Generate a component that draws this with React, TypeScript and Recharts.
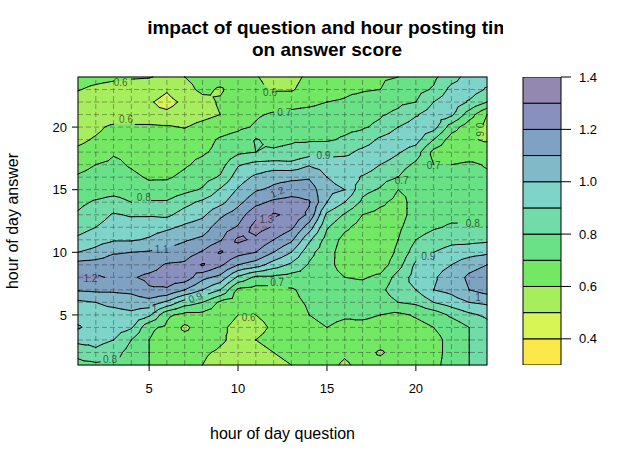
import React from "react";
import { ScatterChart, Scatter, XAxis, YAxis, BarChart, Bar } from "recharts";

if (typeof document !== "undefined") document.body.style.margin = "0";

// hour of day the question was posted (x) and the answer was posted (y)
const hourQuestion = [1, 2, 3, 4, 5, 6, 7, 8, 9, 10, 11, 12, 13, 14, 15, 16, 17, 18, 19, 20, 21, 22, 23, 24];
const hourAnswer = [1, 2, 3, 4, 5, 6, 7, 8, 9, 10, 11, 12, 13, 14, 15, 16, 17, 18, 19, 20, 21, 22, 23, 24];

// mean answer score, one row per answer hour, listed top (24) to bottom (1)
const scoreRows: number[][] = [
  [0.64, 0.63, 0.62, 0.61, 0.605, 0.58, 0.6, 0.63, 0.64, 0.63, 0.61, 0.55, 0.57, 0.62, 0.65, 0.67, 0.68, 0.69, 0.7, 0.75, 0.78, 0.86, 0.94, 0.94],
  [0.605, 0.58, 0.56, 0.55, 0.55, 0.51, 0.57, 0.62, 0.59, 0.64, 0.63, 0.59, 0.59, 0.64, 0.66, 0.68, 0.69, 0.7, 0.74, 0.77, 0.81, 0.93, 0.95, 0.89],
  [0.56, 0.54, 0.53, 0.52, 0.51, 0.47, 0.52, 0.57, 0.61, 0.64, 0.65, 0.66, 0.67, 0.68, 0.7, 0.71, 0.74, 0.76, 0.78, 0.8, 0.9, 0.96, 0.89, 0.8],
  [0.54, 0.53, 0.53, 0.53, 0.52, 0.52, 0.55, 0.57, 0.6, 0.66, 0.69, 0.71, 0.72, 0.73, 0.74, 0.75, 0.77, 0.79, 0.82, 0.89, 0.95, 0.92, 0.75, 0.6],
  [0.55, 0.58, 0.62, 0.62, 0.62, 0.61, 0.595, 0.63, 0.66, 0.68, 0.71, 0.74, 0.75, 0.76, 0.77, 0.78, 0.79, 0.82, 0.9, 0.95, 0.94, 0.75, 0.64, 0.57],
  [0.58, 0.61, 0.64, 0.65, 0.65, 0.65, 0.66, 0.67, 0.71, 0.74, 0.805, 0.78, 0.79, 0.79, 0.79, 0.81, 0.84, 0.92, 0.96, 0.94, 0.8, 0.65, 0.61, 0.59],
  [0.62, 0.64, 0.69, 0.68, 0.67, 0.67, 0.68, 0.69, 0.72, 0.78, 0.8, 0.81, 0.82, 0.85, 0.86, 0.87, 0.93, 0.97, 0.91, 0.85, 0.67, 0.63, 0.63, 0.65],
  [0.67, 0.7, 0.72, 0.69, 0.66, 0.66, 0.69, 0.72, 0.76, 0.89, 0.93, 0.94, 0.93, 0.99, 0.96, 0.96, 0.97, 0.9, 0.85, 0.78, 0.7, 0.7, 0.72, 0.69],
  [0.71, 0.73, 0.74, 0.72, 0.69, 0.69, 0.72, 0.76, 0.81, 0.95, 1.02, 1.07, 1.08, 1.09, 1.0, 0.96, 0.89, 0.84, 0.8, 0.71, 0.73, 0.73, 0.74, 0.72],
  [0.75, 0.76, 0.77, 0.76, 0.73, 0.74, 0.77, 0.81, 0.91, 1.01, 1.09, 1.12, 1.15, 1.15, 1.03, 1.0, 0.83, 0.79, 0.7, 0.72, 0.75, 0.75, 0.75, 0.73],
  [0.78, 0.81, 0.83, 0.8, 0.81, 0.81, 0.87, 0.92, 0.97, 1.07, 1.17, 1.22, 1.24, 1.21, 1.0, 0.9, 0.78, 0.72, 0.67, 0.73, 0.76, 0.76, 0.77, 0.75],
  [0.81, 0.85, 0.91, 0.89, 0.89, 0.88, 0.94, 0.98, 1.08, 1.15, 1.27, 1.31, 1.28, 1.18, 0.88, 0.79, 0.7, 0.67, 0.66, 0.74, 0.77, 0.78, 0.79, 0.77],
  [0.86, 0.9, 0.95, 0.95, 0.96, 0.98, 1.02, 1.05, 1.15, 1.21, 1.34, 1.29, 1.22, 1.05, 0.81, 0.72, 0.66, 0.64, 0.68, 0.76, 0.79, 0.81, 0.8, 0.8],
  [0.92, 0.96, 0.99, 0.99, 1.01, 1.06, 1.09, 1.12, 1.19, 1.32, 1.28, 1.2, 1.12, 0.92, 0.76, 0.67, 0.64, 0.63, 0.7, 0.8, 0.84, 0.87, 0.87, 0.88],
  [1.0, 1.03, 1.09, 1.1, 1.11, 1.12, 1.15, 1.21, 1.31, 1.24, 1.2, 1.1, 1.0, 0.83, 0.74, 0.65, 0.63, 0.63, 0.72, 0.85, 0.9, 0.94, 0.96, 0.98],
  [1.14, 1.15, 1.16, 1.15, 1.16, 1.21, 1.22, 1.31, 1.22, 1.1, 1.05, 0.95, 0.88, 0.79, 0.73, 0.66, 0.65, 0.65, 0.76, 0.92, 0.97, 1.0, 1.06, 1.1],
  [1.22, 1.21, 1.19, 1.19, 1.22, 1.24, 1.26, 1.13, 1.07, 0.88, 0.78, 0.78, 0.76, 0.77, 0.74, 0.7, 0.69, 0.72, 0.84, 0.94, 0.99, 1.04, 1.12, 1.16],
  [1.11, 1.12, 1.12, 1.13, 1.19, 1.19, 1.1, 1.0, 0.9, 0.68, 0.66, 0.66, 0.69, 0.73, 0.74, 0.74, 0.74, 0.77, 0.87, 0.9, 1.0, 1.03, 1.1, 1.14],
  [0.98, 1.0, 1.02, 1.04, 1.06, 0.98, 0.85, 0.8, 0.68, 0.65, 0.64, 0.64, 0.68, 0.71, 0.73, 0.73, 0.75, 0.74, 0.8, 0.82, 0.9, 0.95, 1.0, 1.02],
  [0.96, 0.97, 0.97, 0.98, 0.92, 0.72, 0.67, 0.67, 0.65, 0.6, 0.6, 0.62, 0.66, 0.7, 0.72, 0.71, 0.72, 0.7, 0.68, 0.71, 0.74, 0.82, 0.88, 0.92],
  [1.01, 0.96, 0.95, 0.91, 0.72, 0.68, 0.58, 0.65, 0.62, 0.57, 0.58, 0.61, 0.64, 0.68, 0.7, 0.68, 0.67, 0.66, 0.65, 0.67, 0.7, 0.73, 0.8, 0.86],
  [0.93, 0.93, 0.9, 0.8, 0.7, 0.64, 0.64, 0.64, 0.61, 0.58, 0.6, 0.62, 0.63, 0.65, 0.66, 0.62, 0.65, 0.64, 0.64, 0.66, 0.68, 0.72, 0.8, 0.84],
  [0.83, 0.88, 0.84, 0.76, 0.7, 0.64, 0.65, 0.61, 0.59, 0.57, 0.58, 0.6, 0.62, 0.64, 0.63, 0.61, 0.63, 0.59, 0.63, 0.65, 0.67, 0.73, 0.8, 0.83],
  [0.77, 0.78, 0.78, 0.76, 0.7, 0.65, 0.64, 0.6, 0.57, 0.56, 0.57, 0.58, 0.6, 0.63, 0.62, 0.59, 0.62, 0.63, 0.65, 0.66, 0.68, 0.73, 0.8, 0.83],
];

// contour levels and the colour of each band between them
const levels = [0.3, 0.4, 0.5, 0.6, 0.7, 0.8, 0.9, 1.0, 1.1, 1.2, 1.3, 1.4];
const bandColors = [
  "#FDE84A", "#D8F556", "#A6EE5D", "#73E865", "#69E186", "#72DCA9",
  "#7ED4C8", "#81B9C8", "#80A2C2", "#8891BE", "#9388B0",
];

const xTicks = [5, 10, 15, 20];
const yTicks = [5, 10, 15, 20];
const keyTicks = [0.4, 0.6, 0.8, 1.0, 1.2, 1.4];

// where lattice printed the contour labels (data units)
const contourLabels = [
  { q: 3.4, a: 23.55, level: 0.6, angle: 0 },
  { q: 3.7, a: 20.6, level: 0.6, angle: 0 },
  { q: 11.8, a: 22.8, level: 0.6, angle: 0 },
  { q: 12.6, a: 21.2, level: 0.7, angle: 0 },
  { q: 4.7, a: 14.4, level: 0.8, angle: 0 },
  { q: 14.8, a: 17.7, level: 0.9, angle: 0 },
  { q: 12.2, a: 14.8, level: 1.2, angle: -25 },
  { q: 11.6, a: 12.6, level: 1.3, angle: 0 },
  { q: 5.7, a: 10.2, level: 1.1, angle: 0 },
  { q: 1.7, a: 7.9, level: 1.2, angle: 0 },
  { q: 5.3, a: 5.4, level: 1.0, angle: 0 },
  { q: 7.6, a: 6.4, level: 0.9, angle: -20 },
  { q: 2.8, a: 1.4, level: 0.8, angle: 0 },
  { q: 12.2, a: 7.6, level: 0.7, angle: 0 },
  { q: 10.6, a: 4.8, level: 0.6, angle: 0 },
  { q: 19.2, a: 15.7, level: 0.7, angle: 0 },
  { q: 21.0, a: 16.9, level: 0.7, angle: 0 },
  { q: 23.55, a: 19.8, level: 0.6, angle: 90 },
  { q: 23.2, a: 12.3, level: 0.8, angle: 0 },
  { q: 20.7, a: 9.7, level: 0.9, angle: 0 },
  { q: 23.5, a: 6.4, level: 1.0, angle: 0 },
];

const FONT = "'Liberation Sans', Arial, Helvetica, sans-serif";

const nx = hourQuestion.length;
const ny = hourAnswer.length;
const scoreAt = (i: number, j: number) => scoreRows[ny - 1 - j][i];

const nodes = hourAnswer.flatMap((a, j) =>
  hourQuestion.map((q, i) => ({ q, a, score: scoreAt(i, j) }))
);

const keyRow: Record<string, number | string> = { name: "key", base: levels[0] };
levels.slice(1).forEach((l, k) => {
  keyRow["b" + k] = +(l - levels[k]).toFixed(3);
});
const keyData = [keyRow];

type Pt = { x: number; y: number; z: number };

function clipPoly(poly: Pt[], level: number, keepAbove: boolean): Pt[] {
  const out: Pt[] = [];
  for (let k = 0; k < poly.length; k++) {
    const a = poly[k];
    const b = poly[(k + 1) % poly.length];
    const ina = keepAbove ? a.z >= level : a.z <= level;
    const inb = keepAbove ? b.z >= level : b.z <= level;
    if (ina) out.push(a);
    if (ina !== inb) {
      const t = (level - a.z) / (b.z - a.z);
      out.push({ x: a.x + t * (b.x - a.x), y: a.y + t * (b.y - a.y), z: level });
    }
  }
  return out;
}

const f = (v: number) => v.toFixed(2);
const labelText = (l: number) => (Math.abs(l - 1) < 1e-9 ? "1" : l.toFixed(1));

// draws the filled contour bands, grid and contour lines from the pixel positions of the grid nodes
function ContourLayer({ points }: { points: { x: number; y: number }[] }) {
  if (!points || points.length < nx * ny) return null;
  const P = (i: number, j: number) => points[j * nx + i];
  const V = (i: number, j: number): Pt => ({ x: P(i, j).x, y: P(i, j).y, z: scoreAt(i, j) });

  const x0 = P(0, 0).x, x1 = P(nx - 1, 0).x;
  const y0 = P(0, 0).y, y1 = P(0, ny - 1).y;
  const toPx = (q: number, a: number) => ({
    x: x0 + ((q - hourQuestion[0]) / (hourQuestion[nx - 1] - hourQuestion[0])) * (x1 - x0),
    y: y0 + ((a - hourAnswer[0]) / (hourAnswer[ny - 1] - hourAnswer[0])) * (y1 - y0),
  });

  const labels = contourLabels.map((lb) => {
    const p = toPx(lb.q, lb.a);
    const txt = labelText(lb.level);
    const hw = txt.length * 3 + 2;
    const hh = 5.5;
    return { ...lb, ...p, txt, hw: lb.angle === 90 ? hh : hw, hh: lb.angle === 90 ? hw : hh };
  });

  const bands: string[][] = bandColors.map(() => []);
  const lines: string[] = [];

  for (let j = 0; j < ny - 1; j++) {
    for (let i = 0; i < nx - 1; i++) {
      const a = V(i, j), b = V(i + 1, j), c = V(i + 1, j + 1), d = V(i, j + 1);
      const m: Pt = {
        x: (a.x + b.x + c.x + d.x) / 4,
        y: (a.y + b.y + c.y + d.y) / 4,
        z: (a.z + b.z + c.z + d.z) / 4,
      };
      const tris = [[a, b, m], [b, c, m], [c, d, m], [d, a, m]];
      for (const tri of tris) {
        const zmin = Math.min(tri[0].z, tri[1].z, tri[2].z);
        const zmax = Math.max(tri[0].z, tri[1].z, tri[2].z);
        for (let k = 0; k < bandColors.length; k++) {
          const lo = levels[k], hi = levels[k + 1];
          if (zmax < lo || zmin > hi) continue;
          const poly = clipPoly(clipPoly(tri, lo, true), hi, false);
          if (poly.length < 3) continue;
          bands[k].push("M" + poly.map((p) => f(p.x) + "," + f(p.y)).join("L") + "Z");
        }
        for (let k = 1; k < levels.length - 1; k++) {
          const L = levels[k];
          if (zmin >= L || zmax < L) continue;
          const cross: { x: number; y: number }[] = [];
          for (let e = 0; e < 3; e++) {
            const p = tri[e], q = tri[(e + 1) % 3];
            if ((p.z >= L) !== (q.z >= L)) {
              const t = (L - p.z) / (q.z - p.z);
              cross.push({ x: p.x + t * (q.x - p.x), y: p.y + t * (q.y - p.y) });
            }
          }
          if (cross.length !== 2) continue;
          const mx = (cross[0].x + cross[1].x) / 2;
          const my = (cross[0].y + cross[1].y) / 2;
          const hidden = labels.some(
            (lb) => Math.abs(lb.level - L) < 1e-9 && Math.abs(mx - lb.x) < lb.hw && Math.abs(my - lb.y) < lb.hh
          );
          if (hidden) continue;
          lines.push("M" + f(cross[0].x) + "," + f(cross[0].y) + "L" + f(cross[1].x) + "," + f(cross[1].y));
        }
      }
    }
  }

  return (
    <g>
      {bands.map((segs, k) => (
        <path key={"band" + k} d={segs.join("")} fill={bandColors[k]} stroke={bandColors[k]} strokeWidth={0.7} strokeLinejoin="round" />
      ))}
      {hourQuestion.slice(1, -1).map((q, i) => (
        <line key={"gx" + q} x1={P(i + 1, 0).x} y1={y0} x2={P(i + 1, 0).x} y2={y1} stroke="rgba(40,40,40,0.4)" strokeDasharray="5 3" />
      ))}
      {hourAnswer.slice(1, -1).map((a, j) => (
        <line key={"gy" + a} x1={x0} y1={P(0, j + 1).y} x2={x1} y2={P(0, j + 1).y} stroke="rgba(40,40,40,0.4)" strokeDasharray="5 3" />
      ))}
      <path d={lines.join("")} fill="none" stroke="#000" strokeWidth={1} strokeLinecap="round" />
      {labels.map((lb, k) => (
        <text
          key={"lab" + k}
          x={lb.x}
          y={lb.y}
          textAnchor="middle"
          dominantBaseline="central"
          fontSize={10}
          fontFamily={FONT}
          fill="rgba(0,0,0,0.6)"
          transform={lb.angle ? `rotate(${lb.angle} ${lb.x} ${lb.y})` : undefined}
        >
          {lb.txt}
        </text>
      ))}
      <rect x={x0} y={y1} width={x1 - x0} height={y0 - y1} fill="none" stroke="#000" strokeWidth={1} />
    </g>
  );
}

export default function App() {
  const tickStyle = { fontSize: 13, fill: "#000", fontFamily: FONT };
  return (
    <div style={{ position: "relative", width: 641, height: 463, background: "#fff", fontFamily: FONT }}>
      <div style={{ position: "absolute", left: 0, top: 0 }}>
        <ScatterChart width={641} height={463} margin={{ top: 77, right: 154, bottom: 0, left: 0 }}>
          <XAxis
            type="number"
            dataKey="q"
            domain={[1, 24]}
            ticks={xTicks}
            height={98}
            axisLine={false}
            tickLine={{ stroke: "#000" }}
            tickSize={6}
            tickMargin={13}
            tick={tickStyle}
            label={{ value: "hour of day question", position: "insideBottom", offset: 24, fontSize: 16, fill: "#000", fontFamily: FONT }}
          />
          <YAxis
            type="number"
            dataKey="a"
            domain={[1, 24]}
            ticks={yTicks}
            width={78}
            axisLine={false}
            tickLine={{ stroke: "#000" }}
            tickSize={6}
            tickMargin={5}
            tick={tickStyle}
            label={{ value: "hour of day answer", angle: -90, position: "insideLeft", offset: 12, fontSize: 16, fill: "#000", fontFamily: FONT, style: { textAnchor: "middle" } }}
          />
          <Scatter
            data={nodes}
            isAnimationActive={false}
            fill="none"
            shape={() => <g />}
            line={(p: any) => <ContourLayer points={p.points} />}
          />
        </ScatterChart>
      </div>
      <div style={{ position: "absolute", left: 500, top: 0 }}>
        <BarChart width={141} height={463} data={keyData} margin={{ top: 77, right: 40, bottom: 98, left: 23 }} barCategoryGap={0}>
          <XAxis dataKey="name" hide />
          <YAxis
            orientation="right"
            type="number"
            domain={[levels[0], levels[levels.length - 1]]}
            allowDataOverflow
            ticks={keyTicks}
            tickFormatter={(v: number) => v.toFixed(1)}
            width={40}
            axisLine={false}
            tickLine={{ stroke: "#000" }}
            tickSize={10}
            tickMargin={8}
            tick={tickStyle}
          />
          <Bar dataKey="base" stackId="key" fill="none" isAnimationActive={false} />
          {bandColors.map((c, k) => (
            <Bar key={"b" + k} dataKey={"b" + k} stackId="key" fill={c} stroke="#000" strokeWidth={1} isAnimationActive={false} />
          ))}
        </BarChart>
      </div>
      <svg width={641} height={463} style={{ position: "absolute", left: 0, top: 0, pointerEvents: "none" }}>
        <defs>
          <clipPath id="titleClip">
            <rect x={0} y={0} width={503} height={70} />
          </clipPath>
        </defs>
        <g clipPath="url(#titleClip)" fontFamily={FONT} fontWeight="bold" fontSize={19} textAnchor="middle" fill="#000">
          <text x={334} y={34}>impact of question and hour posting time</text>
          <text x={327} y={56}>on answer score</text>
        </g>
      </svg>
    </div>
  );
}
